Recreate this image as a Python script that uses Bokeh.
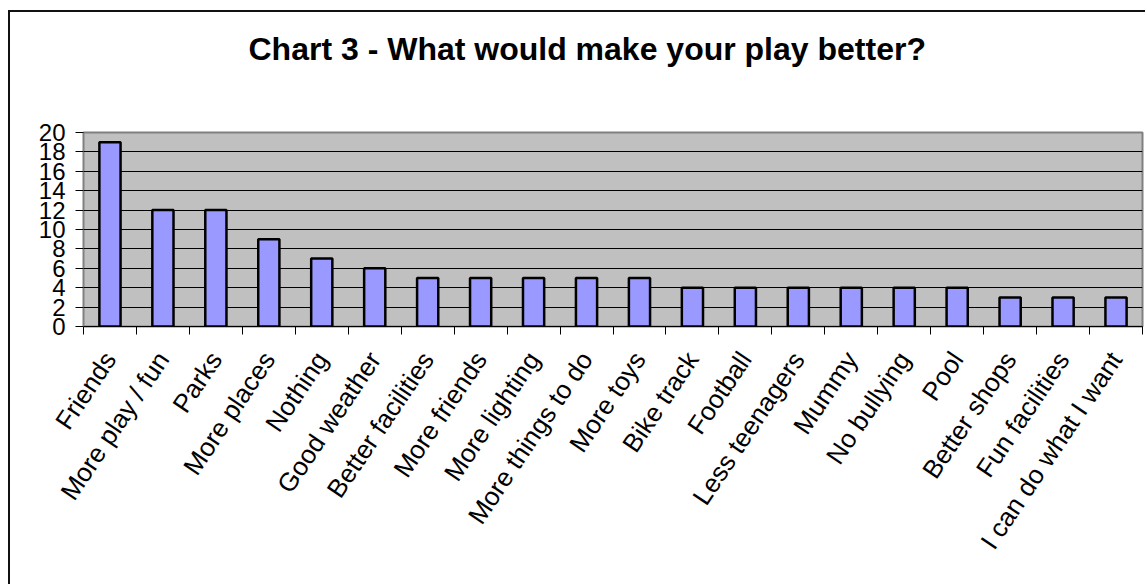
import numpy as np
from bokeh.plotting import figure
from bokeh.models import Range1d, FixedTicker, Title
from bokeh.embed import file_html
from bokeh.resources import INLINE

categories = ["Friends", "More play / fun", "Parks", "More places", "Nothing",
              "Good weather", "Better facilities", "More friends", "More lighting",
              "More things to do", "More toys", "Bike track", "Football",
              "Less teenagers", "Mummy", "No bullying", "Pool", "Better shops",
              "Fun facilities", "I can do what I want"]
counts = [19, 12, 12, 9, 7, 6, 5, 5, 5, 5, 5, 4, 4, 4, 4, 4, 4, 3, 3, 3]
y_ticks = [0, 2, 4, 6, 8, 10, 12, 14, 16, 18, 20]
title_text = "Chart 3 - What would make your play better?"

n = len(categories)
xpos = [i + 0.5 for i in range(n)]
bounds = list(range(n + 1))

W, H = 1137, 574
p = figure(width=W, height=H, x_range=Range1d(0, n), y_range=Range1d(0, 20),
           output_backend="svg", toolbar_location=None,
           min_border_left=73, min_border_right=5, min_border_top=120,
           min_border_bottom=260)
p.styles = {"margin-left": "8px", "margin-top": "10px",
            "border-left": "2px solid #111", "border-top": "2px solid #111"}

p.title.text = title_text
p.title.align = "left"
p.title.offset = 165
p.title.text_font = "Liberation Sans"
p.title.text_font_size = "32px"
p.title.text_font_style = "bold"
p.title.text_color = "black"
p.title.standoff = 26

# blank spacer between the title and the plot frame
spacer = Title(text=" ", text_font_size="10px", standoff=40)
p.add_layout(spacer, "above")

p.background_fill_color = "#C0C0C0"
p.border_fill_color = "white"
p.outline_line_color = "#808080"
p.outline_line_width = 2

p.xgrid.visible = False
p.ygrid.ticker = FixedTicker(ticks=y_ticks)
p.ygrid.grid_line_color = "black"
p.ygrid.grid_line_width = 1

p.vbar(x=xpos, top=counts, width=0.4, fill_color="#9999FF",
       line_color="black", line_width=2.5)

ya = p.yaxis[0]
ya.ticker = FixedTicker(ticks=y_ticks)
ya.axis_line_color = "#808080"
ya.major_tick_line_color = "black"
ya.major_tick_out = 8
ya.major_tick_in = 0
ya.minor_tick_line_color = None
ya.major_label_text_font = "Liberation Sans"
ya.major_label_text_font_size = "24px"
ya.major_label_text_color = "black"
ya.major_label_standoff = 10

xa = p.xaxis[0]
xa.ticker = FixedTicker(ticks=xpos, minor_ticks=bounds)
xa.major_label_overrides = {float(x): c for x, c in zip(xpos, categories)}
xa.axis_line_color = "black"
xa.major_tick_line_color = None
xa.minor_tick_line_color = "black"
xa.minor_tick_out = 8
xa.minor_tick_in = 0
xa.major_label_orientation = np.deg2rad(56)
xa.major_label_text_font = "Liberation Sans"
xa.major_label_text_font_size = "26px"
xa.major_label_text_color = "black"
xa.major_label_standoff = 20

open("out.html", "w").write(file_html(p, INLINE))
